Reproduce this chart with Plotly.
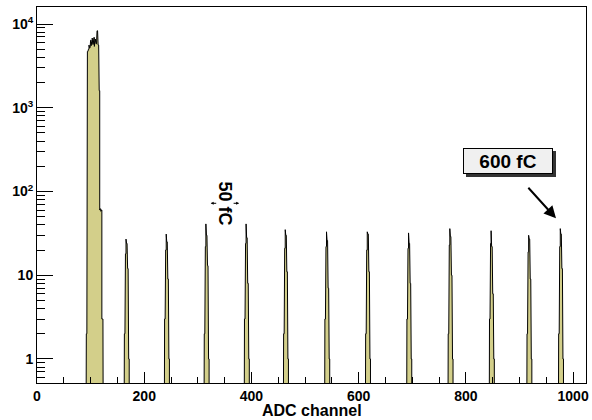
import plotly.graph_objects as go

# ---- data (ADC channel histogram, 1 channel per bin) ----
pedestal_start = 91
pedestal_counts = [1, 2, 85, 4700, 4900, 5000, 5600, 5200, 5900, 6400, 5500, 6100,
                   6800, 5700, 6300, 6900, 5400, 6200, 6600, 5800, 6500, 8300, 6400,
                   5600, 5300, 1600, 60, 62, 58, 60, 3, 3, 1]

peak_starts = [162, 237, 311, 386, 459, 536, 612, 689, 766, 843, 913, 972]
peak_counts = [
    [1, 2, 11, 18, 27, 24, 16, 12, 2, 1],
    [1, 3, 12, 20, 31, 25, 15, 9, 2, 1],
    [1, 2, 10, 22, 41, 30, 19, 13, 3, 1],
    [1, 3, 14, 24, 41, 28, 17, 8, 2, 1],
    [1, 2, 12, 21, 35, 30, 18, 11, 2, 1],
    [1, 3, 13, 22, 33, 26, 16, 7, 2, 1],
    [1, 2, 12, 20, 33, 31, 17, 11, 2, 1],
    [1, 3, 15, 21, 32, 24, 14, 8, 2, 1],
    [1, 2, 12, 23, 36, 29, 17, 10, 2, 1],
    [1, 3, 16, 24, 34, 22, 15, 6, 2, 1],
    [1, 2, 13, 19, 30, 27, 16, 9, 2, 1],
    [1, 2, 11, 22, 36, 31, 17, 12, 2, 1],
]

x_tick_vals = [0, 200, 400, 600, 800, 1000]
y_tick_vals = [1, 10, 100, 1000, 10000]
y_tick_text = ["<b>1</b>", "<b>10</b>", "<b>10<sup>2</sup></b>",
               "<b>10<sup>3</sup></b>", "<b>10<sup>4</sup></b>"]

FILL = "#d3cf8a"
FLOOR = 1e-2  # below the visible axis range (empty bins)


def step_outline(start, counts):
    xs, ys = [start], [FLOOR]
    for i, c in enumerate(counts):
        lo, hi = start + i, start + i + 1
        xs += [lo, hi]
        ys += [c, c]
    xs.append(start + len(counts))
    ys.append(FLOOR)
    return xs, ys


fig = go.Figure()
segments = [(pedestal_start, pedestal_counts)] + list(zip(peak_starts, peak_counts))
for s, c in segments:
    xs, ys = step_outline(s, c)
    fig.add_trace(go.Scatter(x=xs, y=ys, mode="lines", fill="toself",
                             fillcolor=FILL, line=dict(color="black", width=1),
                             hoverinfo="skip", showlegend=False))

# minor tick values for the log axis
minor_y = []
for dec in [0.1, 1, 10, 100, 1000]:
    for m in range(2, 10):
        minor_y.append(m * dec)

font_b = dict(family="Liberation Sans", size=14, color="black", weight="bold")

fig.update_layout(
    width=592, height=420,
    margin=dict(l=37, r=6, t=7, b=37, autoexpand=False),
    plot_bgcolor="white", paper_bgcolor="white",
    showlegend=False,
    xaxis=dict(
        range=[0, 1024], showgrid=False, zeroline=False, automargin=False,
        showline=True, linecolor="black", linewidth=1, mirror=True,
        ticks="inside", ticklen=11, tickcolor="black", tickwidth=1,
        tickvals=x_tick_vals, tickfont=font_b, ticklabelstandoff=0,
        minor=dict(ticks="inside", dtick=50, tick0=0, ticklen=6,
                   tickcolor="black", tickwidth=1),
    ),
    yaxis=dict(
        type="log", range=[-0.287, 4.203], showgrid=False, zeroline=False,
        automargin=False,
        showline=True, linecolor="black", linewidth=1, mirror=True,
        ticks="inside", ticklen=16, tickcolor="black", tickwidth=1,
        tickvals=y_tick_vals, ticktext=y_tick_text, tickfont=font_b,
        minor=dict(ticks="inside", tickvals=minor_y, ticklen=8,
                   tickcolor="black", tickwidth=1),
    ),
)

# axis title
fig.add_annotation(x=0.5, y=-0.073, xref="paper", yref="paper",
                   text="<b>ADC channel</b>", showarrow=False,
                   xanchor="center", yanchor="middle",
                   font=dict(family="Liberation Sans", size=16, color="black"))

# "50 fC" label with double arrow
fig.add_annotation(x=350.6, y=1.857, xref="x", yref="y", text="<b>50 fC</b>",
                   textangle=90, showarrow=False,
                   font=dict(family="Liberation Sans", size=18, color="black"))
for hx, off in [(324, 7), (377, -7)]:
    fig.add_annotation(x=hx, y=1.859, xref="x", yref="y", text="",
                       showarrow=True, ax=off, ay=0, arrowhead=2, arrowsize=0.6,
                       arrowwidth=1, arrowcolor="black")

# "600 fC" boxed label with shadow and arrow
box_x, box_y = 878.4, 2.370
fig.add_annotation(x=box_x, y=box_y, xref="x", yref="y", text="<b>600 fC</b>",
                   showarrow=False, xshift=3, yshift=-3,
                   width=86, height=22, borderpad=1, borderwidth=1,
                   bordercolor="#333333", bgcolor="#333333",
                   font=dict(family="Liberation Sans", size=19, color="rgba(0,0,0,0)"))
fig.add_annotation(x=box_x, y=box_y, xref="x", yref="y", text="<b>600 fC</b>",
                   showarrow=False,
                   width=86, height=22, borderpad=1, borderwidth=1,
                   bordercolor="black", bgcolor="#f0f0f0",
                   font=dict(family="Liberation Sans", size=19, color="black"))
fig.add_annotation(x=968, y=1.680, xref="x", yref="y", text="",
                   showarrow=True, ax=-29, ay=-32, arrowhead=2, arrowsize=1.2,
                   arrowwidth=2, arrowcolor="black")

fig.write_html("out.html",
               config={"displayModeBar": False},
               post_script="document.body.style.margin='0px';"
                           "document.body.style.overflow='hidden';")
